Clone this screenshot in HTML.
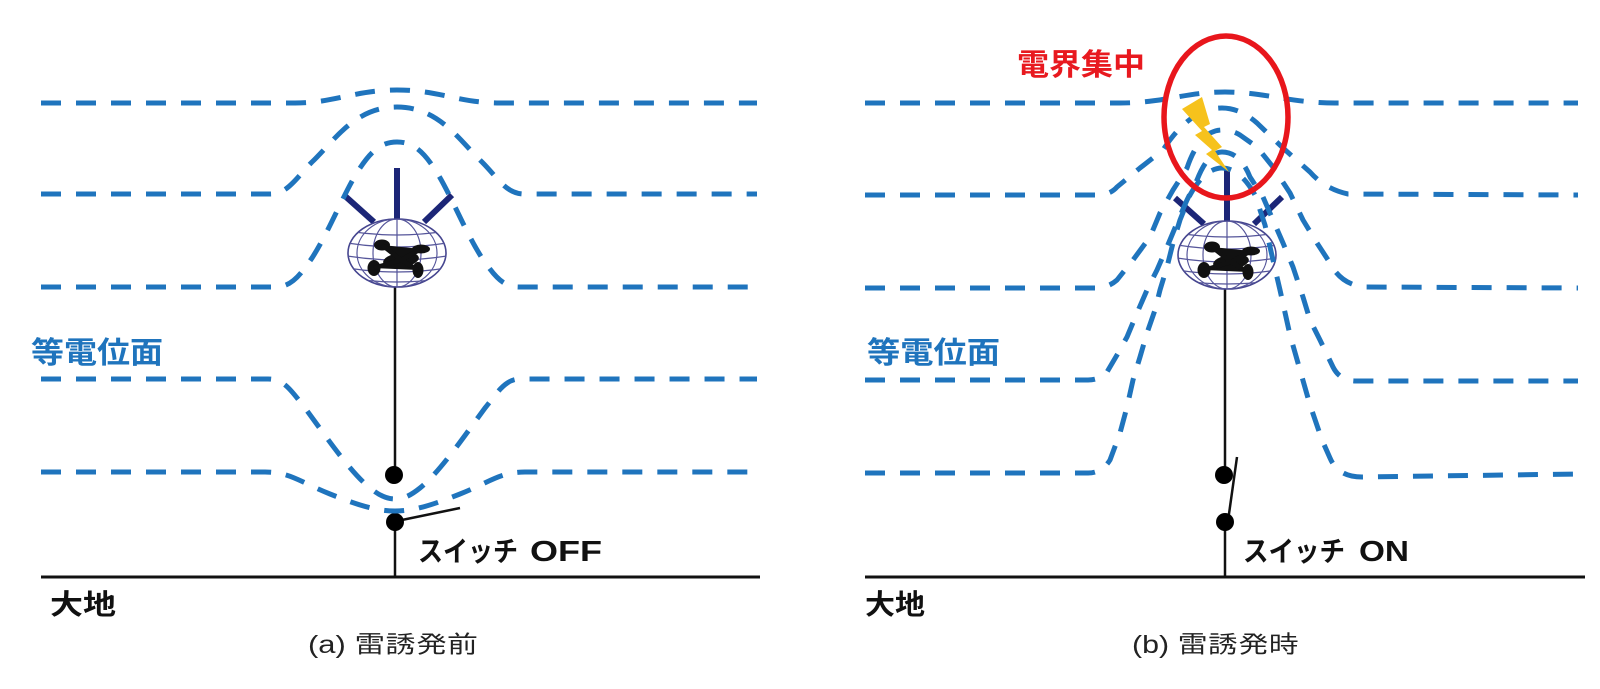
<!DOCTYPE html>
<html><head><meta charset="utf-8">
<style>
html,body{margin:0;padding:0;background:#fff;}
svg{display:block;}
.b{font-family:"Liberation Sans","Noto Sans CJK JP",sans-serif;font-weight:bold;}
.c{font-family:"Liberation Sans","IPAGothic","Noto Sans CJK JP",sans-serif;}
</style></head>
<body>
<svg width="1600" height="689" viewBox="0 0 1600 689" xmlns="http://www.w3.org/2000/svg">
<rect width="1600" height="689" fill="#fff"/>
<defs>
  <clipPath id="sc"><ellipse cx="0" cy="0" rx="49" ry="34"/></clipPath>
  <g id="sph">
    <g stroke="#1c2677" stroke-width="6" stroke-linecap="butt">
      <line x1="0" y1="-85" x2="0" y2="-34"/>
      <line x1="-52" y1="-57" x2="-23" y2="-31"/>
      <line x1="55" y1="-58" x2="27" y2="-31"/>
    </g>
    <ellipse cx="0" cy="0" rx="49" ry="34" fill="#fff" stroke="#45458f" stroke-width="1.6"/>
    <g clip-path="url(#sc)" fill="none" stroke="#55559a" stroke-width="1.2">
      <ellipse cx="0" cy="0" rx="24" ry="34"/>
      <ellipse cx="0" cy="0" rx="40" ry="34"/>
      <line x1="0" y1="-34" x2="0" y2="34"/>
      <path d="M-50,-22 Q0,-14 50,-22"/>
      <path d="M-50,-10 Q0,-2 50,-10"/>
      <path d="M-50,3 Q0,11 50,3"/>
      <path d="M-50,15 Q0,23 50,15"/>
      <path d="M-50,25 Q0,33 50,25"/>
    </g>
    <g fill="#111">
      <ellipse cx="4" cy="7" rx="18" ry="7.5" transform="rotate(-8 4 7)"/>
      <ellipse cx="-15" cy="-8" rx="8" ry="5.5"/>
      <ellipse cx="24" cy="-4" rx="9" ry="4.5"/>
      <ellipse cx="-23" cy="15" rx="6.5" ry="8"/>
      <ellipse cx="21" cy="17" rx="5.5" ry="8"/>
      <path d="M-15,-8 L4,7 L24,-4 M-23,15 L4,7 L21,17" stroke="#111" stroke-width="4.5"/>
    </g>
  </g>
</defs>

<!-- ground lines -->
<g stroke="#111" stroke-width="3">
  <line x1="41" y1="577" x2="760" y2="577"/>
  <line x1="865" y1="577" x2="1585" y2="577"/>
</g>

<!-- panel a wire & switch -->
<g stroke="#111" stroke-width="2.5">
  <line x1="395" y1="285" x2="395" y2="475"/>
  <line x1="395" y1="522" x2="395" y2="577"/>
  <line x1="397" y1="521" x2="460" y2="508"/>
</g>
<circle cx="394" cy="475" r="9" fill="#000"/>
<circle cx="395" cy="522" r="9" fill="#000"/>

<!-- panel b wire & switch -->
<g stroke="#111" stroke-width="2.5">
  <line x1="1225" y1="285" x2="1225" y2="475"/>
  <line x1="1225" y1="522" x2="1225" y2="577"/>
  <line x1="1228" y1="521" x2="1237" y2="457"/>
</g>
<circle cx="1224" cy="475" r="9" fill="#000"/>
<circle cx="1225" cy="522" r="9" fill="#000"/>

<!-- spheres -->
<use href="#sph" transform="translate(397,253)"/>
<use href="#sph" transform="translate(1227,255)"/>

<!-- dashed equipotential lines -->
<g fill="none" stroke="#1f74bd" stroke-width="5" stroke-dasharray="20 15" stroke-linejoin="round">
  <!-- panel a -->
  <path d="M41,103 H295 C335,103 355,90 397,90 C439,90 459,103 500,103 H757"/>
  <path d="M41,194 H270 C288,194 296,178 312,162 C335,140 355,107 397,107 C439,107 459,140 482,162 C498,178 506,194 524,194 H757"/>
  <path d="M41,287 H275 C292,287 300,275 312,258 C330,230 345,190 360,168 C372,150 382,142 397,142 C412,142 422,150 434,168 C449,190 464,230 482,258 C494,275 502,287 519,287 H757"/>
  <path d="M41,379 H268 C285,379 292,392 305,408 C325,435 350,472 370,488 C380,496 387,499 395,499 C403,499 410,496 420,488 C440,472 465,435 485,408 C498,392 505,379 520,379 H757"/>
  <path d="M41,472 H265 C290,472 300,482 330,494 C355,504 375,511 395,511 C415,511 435,504 460,494 C490,482 500,472 525,472 H757"/>
  <!-- panel b -->
  <path d="M865,103 H1120 C1165,103 1185,92 1225,92 C1265,92 1290,103 1335,103 H1578"/>
  <path d="M865,195 L1097,195 Q1110,195 1117,187 L1140,168 L1163,150 Q1190,108 1222,108 Q1240,108 1257,123 L1283,148 L1310,172 Q1325,189 1348,194 L1578,195"/>
  <path d="M865,288 L1095,288 Q1108,288 1117,280 L1133,260 L1150,237 L1160,213 L1173,190 L1187,168 Q1200,130 1222,130 Q1232,130 1240,135 L1257,147 L1273,167 L1290,193 L1303,220 L1317,243 L1330,263 Q1340,283 1362,287 L1578,288"/>
  <path d="M865,380 L1088,380 Q1100,380 1107,372 L1117,355 L1127,337 L1137,313 L1147,290 L1157,270 L1167,247 L1177,223 L1187,200 L1197,180 Q1208,152 1222,152 Q1240,152 1250,177 L1263,197 L1273,220 L1283,243 L1293,267 L1303,297 L1310,320 L1320,340 L1333,367 Q1340,381 1356,381 L1578,381"/>
  <path d="M865,473 L1088,473 Q1102,473 1110,460 L1120,433 L1127,407 L1133,380 L1140,357 L1147,333 L1155,310 L1160,290 L1167,267 L1173,243 L1180,220 L1190,195 Q1205,168 1222,168 Q1240,168 1255,195 L1265,225 L1273,260 L1280,290 L1290,335 L1300,370 L1310,405 L1322,440 L1330,458 Q1338,477 1362,477 L1578,474"/>
</g>

<!-- red ellipse -->
<ellipse cx="1226" cy="117" rx="62" ry="81" fill="none" stroke="#e8161c" stroke-width="5.5"/>

<!-- lightning bolt -->
<polygon points="1182,109 1202,97 1210,124 1204,127 1222,147 1215,151 1229,172 1206,154 1212,150 1195,135 1202,131" fill="#f6c21c"/>

<!-- texts -->
<text class="b" x="1017" y="75" font-size="30" fill="#e8191f" textLength="128" lengthAdjust="spacingAndGlyphs">電界集中</text>
<text class="b" x="31" y="363" font-size="30" fill="#1f74bd" textLength="132" lengthAdjust="spacingAndGlyphs">等電位面</text>
<text class="b" x="867" y="363" font-size="30" fill="#1f74bd" textLength="133" lengthAdjust="spacingAndGlyphs">等電位面</text>
<text class="b" x="50" y="614" font-size="28" fill="#111" textLength="66" lengthAdjust="spacingAndGlyphs">大地</text>
<text class="b" x="865" y="614" font-size="28" fill="#111" textLength="60" lengthAdjust="spacingAndGlyphs">大地</text>
<text class="b" x="418" y="561" font-size="28" fill="#111" textLength="100" lengthAdjust="spacingAndGlyphs">スイッチ</text>
<text class="b" x="530" y="561" font-size="29" fill="#111" textLength="72" lengthAdjust="spacingAndGlyphs">OFF</text>
<text class="b" x="1243" y="561" font-size="28" fill="#111" textLength="102" lengthAdjust="spacingAndGlyphs">スイッチ</text>
<text class="b" x="1359" y="561" font-size="29" fill="#111" textLength="50" lengthAdjust="spacingAndGlyphs">ON</text>
<text class="c" x="308" y="653" font-size="25" fill="#222" textLength="170" lengthAdjust="spacingAndGlyphs">(a) 雷誘発前</text>
<text class="c" x="1132" y="653" font-size="25" fill="#222" textLength="167" lengthAdjust="spacingAndGlyphs">(b) 雷誘発時</text>
</svg>
</body></html>
